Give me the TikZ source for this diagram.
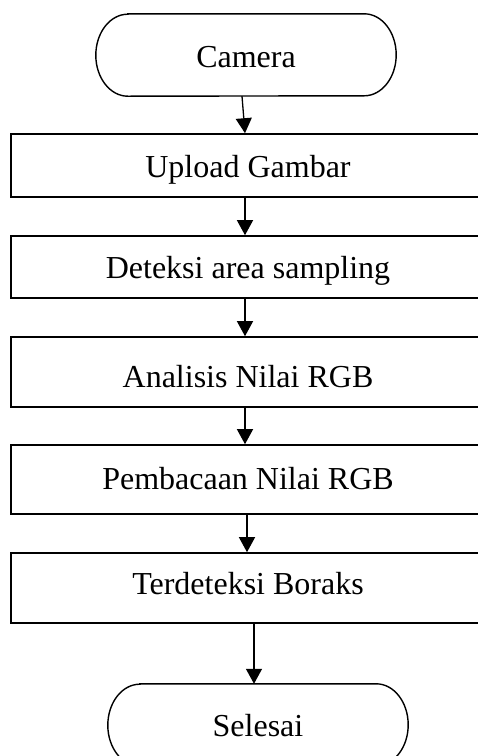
\documentclass[tikz,border=0pt]{standalone}
\usepackage{fontspec}
\setmainfont{Liberation Serif}
\usetikzlibrary{arrows.meta}
\begin{document}
\begin{tikzpicture}[x=1pt,y=-1pt,
  term/.style={minimum width=300pt, minimum height=82pt, inner sep=0pt, text depth=0pt, font=\fontsize{32}{36}\selectfont},
  termline/.style={line width=1.4pt},
  procbox/.style={draw, line width=1.6pt, minimum width=474pt, inner sep=0pt, text depth=0pt, font=\fontsize{32}{36}\selectfont},
  arr/.style={line width=1.3pt, -{Triangle[length=15pt,width=16pt]}}]
\clip (0,0) rectangle (478,756);
\fill[white] (0,0) rectangle (478,756);
\node[term, text height=24pt] (cam) at (246,55) {Camera};
\node[procbox, minimum height=63pt, text height=23pt] (up) at (248,165.5) {Upload Gambar};
\node[procbox, minimum height=62pt, text height=22pt] (det) at (248,267) {Deteksi area sampling};
\node[procbox, minimum height=70pt, text height=31pt] (ana) at (248,372) {Analisis Nilai RGB};
\node[procbox, minimum height=69pt, text height=21pt, text depth=1pt] (baca) at (248,479.5) {Pembacaan Nilai RGB};
\node[procbox, minimum height=70pt, text height=21pt, text depth=8pt] (ter) at (248,588) {Terdeteksi Boraks};
\node[term, text height=23pt] (end) at (258,725) {Selesai};
\foreach \t in {cam,end}{
  \draw[termline] ([xshift=32pt]\t.north west) -- ([xshift=-32pt]\t.north east)
    arc[start angle=90, end angle=-90, x radius=32pt, y radius=41pt]
    -- ([xshift=32pt]\t.south west)
    arc[start angle=270, end angle=90, x radius=32pt, y radius=41pt] -- cycle;
}
\draw[arr] ([xshift=-4pt]cam.south) -- ([xshift=-3pt]up.north);
\draw[arr] ([xshift=-3pt]up.south) -- ([xshift=-3pt]det.north);
\draw[arr] ([xshift=-3pt]det.south) -- ([xshift=-3pt]ana.north);
\draw[arr] ([xshift=-3pt]ana.south) -- ([xshift=-3pt]baca.north);
\draw[arr] ([xshift=-1pt]baca.south) -- ([xshift=-1pt]ter.north);
\draw[arr] ([xshift=6pt]ter.south) -- ([xshift=-4pt]end.north);
\end{tikzpicture}
\end{document}
